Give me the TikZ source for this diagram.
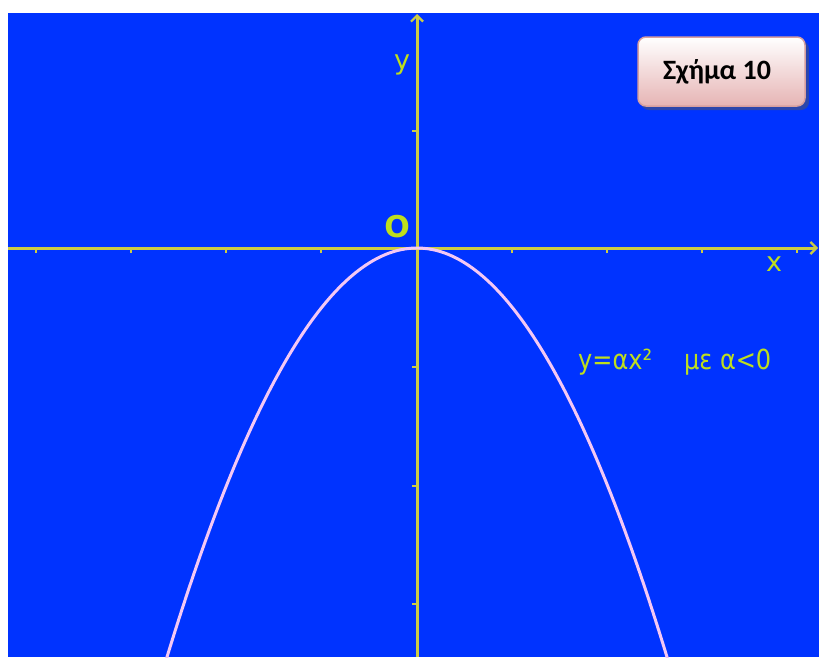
\documentclass[tikz,border=0pt]{standalone}
\usepackage{fontspec}
\setmainfont{DejaVu Sans}
\newfontfamily\boxfont{Carlito}
\usetikzlibrary{arrows.meta,shadows}
\definecolor{bgblue}{RGB}{0,51,255}
\definecolor{axiscol}{RGB}{204,204,68}
\definecolor{labcol}{RGB}{190,222,30}
\definecolor{curvecol}{RGB}{244,200,244}
\definecolor{boxpink}{RGB}{230,180,180}
\definecolor{boxedge}{RGB}{215,160,160}
\tikzset{
  axis/.style={draw=axiscol, line width=3pt},
  tick/.style={draw=axiscol, line width=2.5pt},
  lab/.style={text=labcol, inner sep=0pt, font=\fontsize{24}{26}\selectfont},
}
\begin{document}
\begin{tikzpicture}[x=1pt,y=-1pt]
\useasboundingbox (0,0) rectangle (819,657);
\fill[white] (0,0) rectangle (819,657);
\fill[bgblue] (8,13) rectangle (819,657);
% ticks
\foreach \t in {36,131,226,321,512,607,702,797}
  \draw[tick] (\t,248) -- (\t,253);
\foreach \t in {131,367,486,604}
  \draw[tick] (417,\t) -- (412,\t);
% axes
\coordinate (xl) at (8,248);
\coordinate (xr) at (818,248);
\coordinate (yb) at (417,657);
\coordinate (yt) at (417,14);
\draw[axis, -{Straight Barb[length=6pt,width=12pt,line width=2.2pt]}] (xl) -- (xr);
\draw[axis, -{Straight Barb[length=6pt,width=12pt,line width=2.2pt]}] (yb) -- (yt);
% parabola
\begin{scope}
\clip (8,13) rectangle (819,657);
\draw[curvecol, line width=3pt] plot[domain=-2.6:2.6, samples=120, smooth] ({417+100*\x},{248+65.44*\x*\x});
\end{scope}
% labels
\node[lab, font=\fontsize{27}{29}\selectfont] (ylab) at (402,65) {y};
\node[lab, font=\fontsize{27}{29}\selectfont] (xlab) at (774,264) {x};
\node[lab, font=\bfseries\fontsize{30}{32}\selectfont] (olab) at (397,227) {O};
\node[lab, anchor=west] (eq) at (578,362) {\scalebox{1}[1.15]{y=αx²\hspace{32pt}με α<0}};
% box
\fill[gray!70!black, opacity=0.5, rounded corners=8pt] (641,41) rectangle (809,110);
\shade[top color=white, bottom color=boxpink, draw=boxedge, line width=1.5pt, rounded corners=8pt] (638,37) rectangle (805,106);
\node[font=\boxfont\bfseries\fontsize{28}{30}\selectfont, text=black] (title) at (717,72) {Σχήμα 10};
\end{tikzpicture}
\end{document}
